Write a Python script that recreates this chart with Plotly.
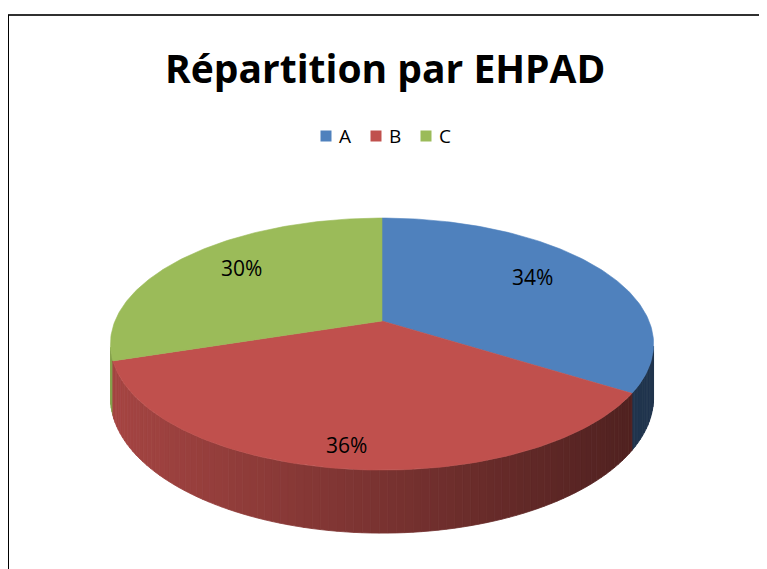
import numpy as np
import plotly.graph_objects as go

# ---- data ----
categories = ["A", "B", "C"]
values = [34, 36, 30]
labels_pct = ["34%", "36%", "30%"]
title_text = "Répartition par EHPAD"

# ---- style / geometry ----
top_colors = [(79, 129, 189), (192, 80, 77), (155, 187, 89)]
W, H = 767, 569
OFF = 8                    # page body margin compensation
CX, CY = 382, 321          # pie apex on screen
AX, BY = 267, 121.8        # horizontal / vertical radius scale
PERSP = 0.183              # perspective factor
THICK = 51.5               # pie thickness
WALL_CUT = -0.2            # only walls facing the viewer
LABEL_R = [0.68, 0.9, 0.70]
LABEL_LIFT = -6
FONT = "Open Sans, Lato, sans-serif"


def proj(theta_deg, r=1.0, z=0.0):
    t = np.radians(theta_deg)
    X = r * np.sin(t)
    Y = r * np.cos(t)
    s = 1.0 / (1.0 + PERSP * Y)
    return CX + AX * X * s, CY - BY * Y * s + THICK * z * s


def rgb(c, f=1.0):
    return "rgb(%d,%d,%d)" % tuple(int(round(v * f)) for v in c)


fig = go.Figure()

total = float(sum(values))
bounds = [0.0]
for v in values:
    bounds.append(bounds[-1] + 360.0 * v / total)

# ---- side walls ----
segs = []
step = 1.5
for i in range(len(values)):
    a0, a1 = bounds[i], bounds[i + 1]
    n = max(1, int(np.ceil((a1 - a0) / step)))
    edges = np.linspace(a0, a1, n + 1)
    for j in range(n):
        ta, tb = edges[j], edges[j + 1]
        mid = 0.5 * (ta + tb)
        if np.cos(np.radians(mid)) > WALL_CUT:
            continue
        th = np.linspace(ta, tb, 4)
        xt, yt = proj(th)
        xb, yb = proj(th[::-1], z=1.0)
        xs = np.concatenate([xt, xb, xt[:1]])
        ys = np.concatenate([yt, yb, yt[:1]])
        xm, _ = proj(mid)
        f = 0.86 - 0.46 * (xm - 112) / 540.0
        f = min(max(f, 0.35), 0.9)
        segs.append((np.cos(np.radians(mid)), xs, ys, rgb(top_colors[i], f)))

segs.sort(key=lambda s: -s[0])
for _, xs, ys, col in segs:
    fig.add_trace(go.Scatter(x=xs, y=ys, mode="lines", fill="toself",
                             fillcolor=col, line=dict(color=col, width=0.8),
                             hoverinfo="skip", showlegend=False))

# ---- top faces ----
for i in range(len(values)):
    th = np.linspace(bounds[i], bounds[i + 1], 120)
    xa, ya = proj(th)
    xs = np.concatenate([[CX], xa, [CX]])
    ys = np.concatenate([[CY], ya, [CY]])
    col = rgb(top_colors[i])
    fig.add_trace(go.Scatter(x=xs, y=ys, mode="lines", fill="toself",
                             fillcolor=col, line=dict(color=col, width=0.6),
                             hoverinfo="text", text=categories[i],
                             showlegend=False))

# ---- labels ----
for i in range(len(values)):
    mid = 0.5 * (bounds[i] + bounds[i + 1])
    lx, ly = proj(mid, r=LABEL_R[i])
    fig.add_annotation(x=lx, y=ly + LABEL_LIFT, text=labels_pct[i],
                       showarrow=False, xref="x", yref="y",
                       font=dict(family=FONT, size=21, color="#000000"))

# ---- legend (manual) ----
leg_x0, leg_dx, leg_y = 326, 50, 136
fig.add_trace(go.Scatter(
    x=[leg_x0 + k * leg_dx for k in range(len(categories))],
    y=[leg_y] * len(categories), mode="markers",
    marker=dict(symbol="square", size=11,
                color=[rgb(c) for c in top_colors]),
    hoverinfo="skip", showlegend=False))
for k, cat in enumerate(categories):
    fig.add_annotation(x=leg_x0 + k * leg_dx + 11, y=leg_y, text=cat,
                       showarrow=False, xanchor="left", xref="x", yref="y",
                       font=dict(family=FONT, size=19, color="#000000"))

# ---- title ----
fig.add_annotation(x=385, y=67, text="<b>%s</b>" % title_text, showarrow=False,
                   xref="x", yref="y",
                   font=dict(family=FONT, size=39, color="#000000"))

# ---- chart border ----
fig.add_shape(type="line", x0=7, x1=W + OFF, y0=15, y1=15, xref="x", yref="y",
              line=dict(color="#303030", width=2))
fig.add_shape(type="line", x0=8, x1=8, y0=15, y1=H + OFF, xref="x", yref="y",
              line=dict(color="#000000", width=2))

fig.update_layout(
    width=W, height=H,
    margin=dict(l=0, r=0, t=0, b=0),
    paper_bgcolor="white", plot_bgcolor="white",
    xaxis=dict(range=[OFF, W + OFF], visible=False, fixedrange=True),
    yaxis=dict(range=[H + OFF, OFF], visible=False, fixedrange=True),
    showlegend=False,
)

fig.write_html("out.html")
